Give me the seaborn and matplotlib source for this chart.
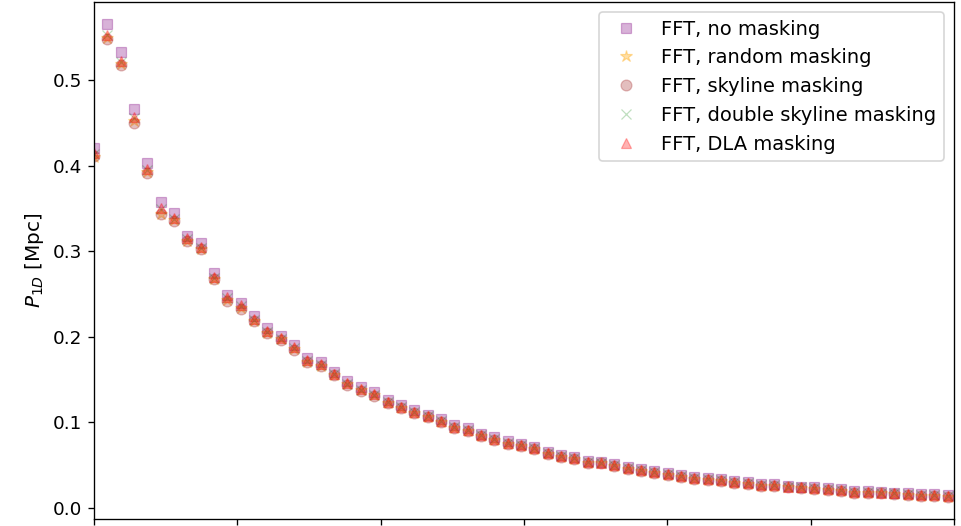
import matplotlib
matplotlib.use("Agg")
import matplotlib.pyplot as plt
import seaborn as sns
import pandas as pd

k = [0.000, 0.093, 0.186, 0.279, 0.372, 0.465, 0.558, 0.651, 0.745, 0.838,
     0.931, 1.024, 1.117, 1.210, 1.303, 1.396, 1.489, 1.582, 1.675, 1.768,
     1.861, 1.954, 2.048, 2.141, 2.234, 2.327, 2.420, 2.513, 2.606, 2.699,
     2.792, 2.885, 2.978, 3.071, 3.164, 3.257, 3.351, 3.444, 3.537, 3.630,
     3.723, 3.816, 3.909, 4.002, 4.095, 4.188, 4.281, 4.374, 4.467, 4.560,
     4.654, 4.747, 4.840, 4.933, 5.026, 5.119, 5.212, 5.305, 5.398, 5.491,
     5.584, 5.677, 5.770, 5.863, 5.956]

p_dla = [0.415, 0.553, 0.522, 0.457, 0.396, 0.350, 0.339, 0.315, 0.305, 0.270,
         0.246, 0.237, 0.221, 0.207, 0.199, 0.188, 0.173, 0.168, 0.157, 0.146,
         0.139, 0.133, 0.124, 0.118, 0.112, 0.107, 0.102, 0.095, 0.091, 0.085,
         0.081, 0.076, 0.074, 0.070, 0.064, 0.061, 0.058, 0.054, 0.053, 0.050,
         0.047, 0.044, 0.042, 0.040, 0.037, 0.035, 0.034, 0.033, 0.030, 0.029,
         0.027, 0.027, 0.025, 0.024, 0.023, 0.022, 0.021, 0.019, 0.019, 0.018,
         0.017, 0.016, 0.015, 0.015, 0.014]

p_none = [0.420, 0.565, 0.533, 0.466, 0.403, 0.358, 0.345, 0.318, 0.309, 0.274,
          0.249, 0.240, 0.224, 0.210, 0.201, 0.190, 0.175, 0.170, 0.159, 0.148,
          0.141, 0.135, 0.126, 0.120, 0.114, 0.109, 0.104, 0.097, 0.093, 0.087,
          0.083, 0.078, 0.075, 0.071, 0.065, 0.062, 0.059, 0.055, 0.054, 0.051,
          0.048, 0.045, 0.043, 0.041, 0.038, 0.036, 0.035, 0.034, 0.031, 0.030,
          0.028, 0.028, 0.026, 0.025, 0.024, 0.023, 0.022, 0.020, 0.020, 0.019,
          0.018, 0.017, 0.016, 0.016, 0.015]

p_random = [0.410, 0.549, 0.519, 0.452, 0.392, 0.344, 0.336, 0.312, 0.302, 0.267,
            0.243, 0.234, 0.219, 0.205, 0.197, 0.186, 0.171, 0.166, 0.155, 0.145,
            0.138, 0.132, 0.123, 0.117, 0.111, 0.106, 0.101, 0.094, 0.090, 0.084,
            0.080, 0.075, 0.073, 0.069, 0.063, 0.060, 0.057, 0.053, 0.052, 0.049,
            0.046, 0.043, 0.041, 0.039, 0.036, 0.034, 0.033, 0.032, 0.029, 0.028,
            0.026, 0.026, 0.024, 0.023, 0.022, 0.021, 0.020, 0.018, 0.018, 0.017,
            0.016, 0.015, 0.014, 0.014, 0.013]

p_skyline = [0.411, 0.548, 0.518, 0.450, 0.391, 0.343, 0.335, 0.312, 0.302, 0.267,
             0.242, 0.233, 0.218, 0.204, 0.196, 0.185, 0.171, 0.166, 0.155, 0.144,
             0.137, 0.131, 0.123, 0.117, 0.111, 0.106, 0.101, 0.094, 0.090, 0.084,
             0.080, 0.075, 0.073, 0.069, 0.063, 0.060, 0.057, 0.053, 0.052, 0.049,
             0.046, 0.043, 0.041, 0.039, 0.036, 0.034, 0.033, 0.032, 0.029, 0.028,
             0.026, 0.026, 0.024, 0.023, 0.022, 0.021, 0.020, 0.018, 0.018, 0.017,
             0.016, 0.015, 0.014, 0.014, 0.013]

p_double = [0.414, 0.552, 0.521, 0.456, 0.395, 0.349, 0.338, 0.314, 0.304, 0.269,
            0.245, 0.236, 0.220, 0.206, 0.198, 0.187, 0.172, 0.167, 0.156, 0.145,
            0.138, 0.132, 0.124, 0.118, 0.112, 0.107, 0.102, 0.095, 0.091, 0.085,
            0.081, 0.076, 0.074, 0.070, 0.064, 0.061, 0.058, 0.054, 0.053, 0.050,
            0.047, 0.044, 0.042, 0.040, 0.037, 0.035, 0.034, 0.033, 0.030, 0.029,
            0.027, 0.027, 0.025, 0.024, 0.023, 0.022, 0.021, 0.019, 0.019, 0.018,
            0.017, 0.016, 0.015, 0.015, 0.014]

labels = ["FFT, no masking", "FFT, random masking", "FFT, skyline masking",
          "FFT, double skyline masking", "FFT, DLA masking"]
series = [p_none, p_random, p_skyline, p_double, p_dla]
markers = ["s", "*", "o", "x", "^"]
colors = ["purple", "orange", "brown", "green", "red"]
alphas = [0.3, 0.35, 0.3, 0.25, 0.3]
msizes = [6.5, 7.5, 6.5, 6.5, 6.5]

sns.set_style("ticks")
plt.rcParams["font.family"] = ["DejaVu Sans"]
plt.rcParams["font.size"] = 11
for key in ["text.color", "axes.labelcolor", "xtick.color", "ytick.color", "axes.edgecolor"]:
    plt.rcParams[key] = "black"

fig = plt.figure(figsize=(961 / 120, 526 / 120), dpi=120)
ax = fig.add_axes([94 / 961, 1 - 519 / 526, (954 - 94) / 961, (519 - 2) / 526])

for lab, vals, m, c, a, ms in zip(labels, series, markers, colors, alphas, msizes):
    df = pd.DataFrame({"k": k, "P": vals})
    sns.lineplot(data=df, x="k", y="P", marker=m, color=c, alpha=a,
                 markersize=ms, markeredgecolor=c, linestyle="", label=lab,
                 ax=ax)

ax.set_xlim(0, 6)
ax.set_ylim(-0.01285, 0.5911)
ax.set_xticks([0, 1, 2, 3, 4, 5, 6])
ax.set_xticklabels([])
ax.set_yticks([0.0, 0.1, 0.2, 0.3, 0.4, 0.5])
ax.set_xlabel("")
ax.set_ylabel(r"$P_{1D}$ [Mpc]", fontsize=12)
for sp in ax.spines.values():
    sp.set_visible(True)
    sp.set_linewidth(0.8)
ax.legend(loc="upper right", frameon=True, fontsize=11.7)

fig.savefig("out.png", dpi=120)
